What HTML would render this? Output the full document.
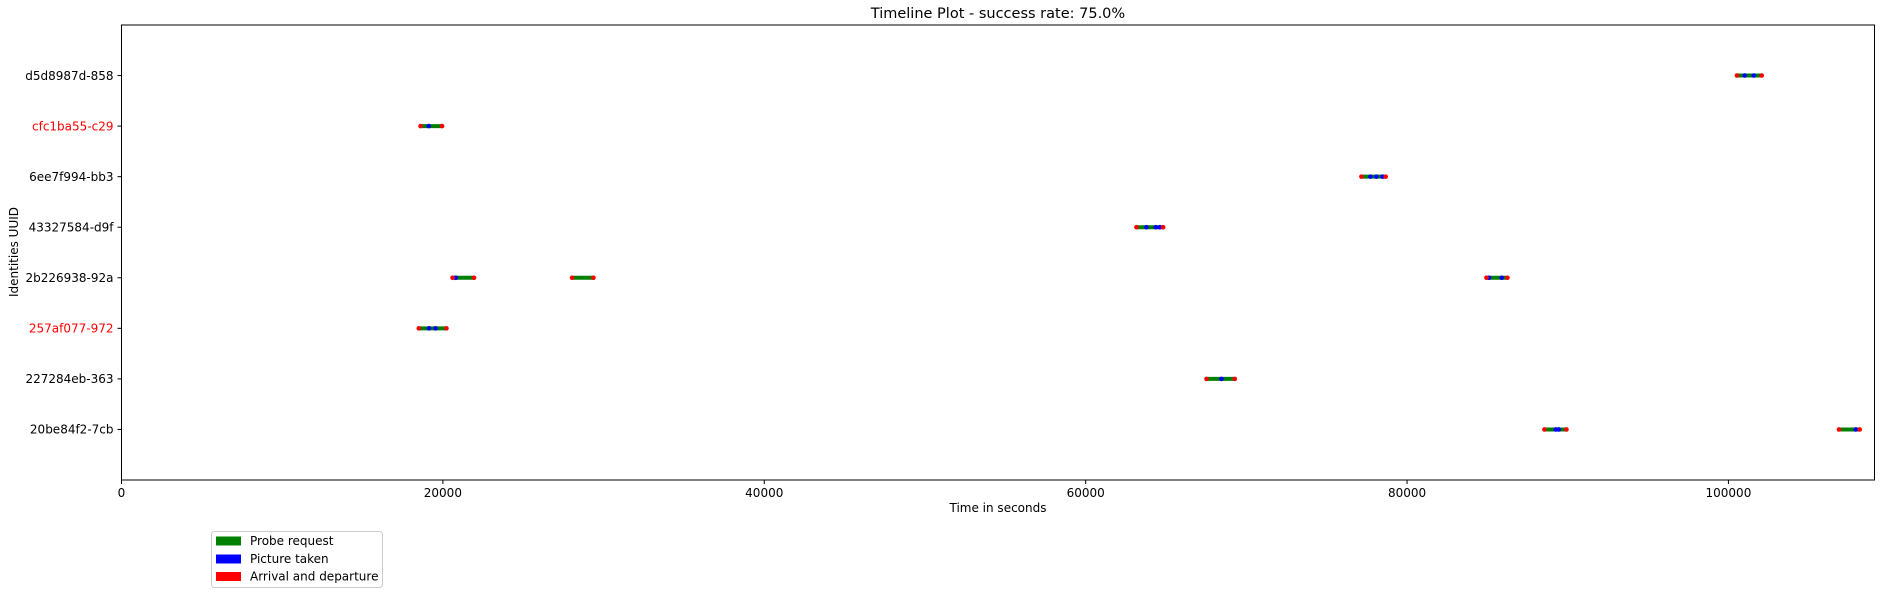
<!DOCTYPE html>
<html><head><meta charset="utf-8"><style>
body{margin:0;background:#fff;}
svg{display:block;font-family:"DejaVu Sans","Liberation Sans",sans-serif;}
</style></head><body>
<svg id="chart" width="1894" height="600" xmlns="http://www.w3.org/2000/svg">
<rect width="1894" height="600" fill="#fff"/>
<text x="998" y="18" text-anchor="middle" font-size="14.5" fill="#000">Timeline Plot - success rate: 75.0%</text>
<g id="marks"></g>
<rect x="121.5" y="25" width="1753" height="455" fill="none" stroke="#000" stroke-width="1"/>
<g id="xticks"></g><g id="yticks"></g>
<text x="998" y="512" text-anchor="middle" font-size="12">Time in seconds</text>
<text transform="translate(18,252) rotate(-90)" text-anchor="middle" font-size="12">Identities UUID</text>
<g>
<rect x="211.5" y="531.5" width="171" height="56" rx="3" fill="#fff" stroke="#ccc"/>
<g><rect x="216" y="536.5" width="25" height="9" fill="green"/><text x="250" y="545" font-size="12">Probe request</text></g>
<g><rect x="216" y="554.5" width="25" height="9" fill="blue"/><text x="250" y="563" font-size="12">Picture taken</text></g>
<g><rect x="216" y="572" width="25" height="9" fill="red"/><text x="250" y="580.5" font-size="12">Arrival and departure</text></g>
</g>
</svg>
<script>
const identities = ["20be84f2-7cb","227284eb-363","257af077-972","2b226938-92a","43327584-d9f","6ee7f994-bb3","cfc1ba55-c29","d5d8987d-858"];
const failed = ["257af077-972","cfc1ba55-c29"];
const sessionRow = [0,0,1,2,3,3,3,4,5,6,7];
const arrivals = [88550,106880,67520,18500,20600,28040,84940,63160,77160,18610,100530];
const departures = [89920,108170,69280,20220,21940,29370,86250,64820,78670,19950,102070];
const pictures = [[89250,89440],[107920],[68450],[19140,19540],[20800],[],[85100,85890],[63780,64360,64610],[77720,78090,78470],[19120],[101010,101580]];
const xTicks = [0,20000,40000,60000,80000,100000];
const xMin=0,xMax=109090,yMin=-1,yMax=8;
const L=121.5,R=1874.5,T=25,B=480;
const sx=v=>L+(v-xMin)/(xMax-xMin)*(R-L);
const sy=v=>B-(v-yMin)/(yMax-yMin)*(B-T);
const NS="http://www.w3.org/2000/svg";
function mk(tag,attrs,parent){const e=document.createElementNS(NS,tag);for(const k in attrs)e.setAttribute(k,attrs[k]);parent.appendChild(e);return e;}
const marks=document.getElementById('marks');
sessionRow.forEach((r,i)=>{
  const g=mk('g',{},marks);
  
  
  const y=sy(r);
  const ln=mk('line',{x1:sx(arrivals[i]),x2:sx(departures[i]),y1:y,y2:y,stroke:'green','stroke-width':4,'stroke-linecap':'round'},g);
  
  
  pictures[i].forEach(p=>{
    const c=mk('circle',{cx:sx(p),cy:y,r:2.3,fill:'blue'},g);
    
    
  });
  [arrivals[i],departures[i]].forEach(p=>{
    const c=mk('circle',{cx:sx(p),cy:y,r:2.3,fill:'red'},g);
    
    
  });
});
const xg=document.getElementById('xticks');
xTicks.forEach(t=>{
  const x=sx(t);
  const l=mk('line',{x1:x,x2:x,y1:B,y2:B+4,stroke:'#000'},xg);
  
  
  const tx=mk('text',{x:x,y:B+17,'text-anchor':'middle','font-size':12},xg);
  tx.textContent=t;
  
  
});
const yg=document.getElementById('yticks');
identities.forEach((id,i)=>{
  const y=sy(i);
  const l=mk('line',{x1:L-4,x2:L,y1:y,y2:y,stroke:'#000'},yg);
  
  
  const tx=mk('text',{x:L-8,y:y+4.3,'text-anchor':'end','font-size':12,fill:failed.includes(id)?'red':'#000'},yg);
  tx.textContent=id;
  
  
});
</script>
</body></html>
